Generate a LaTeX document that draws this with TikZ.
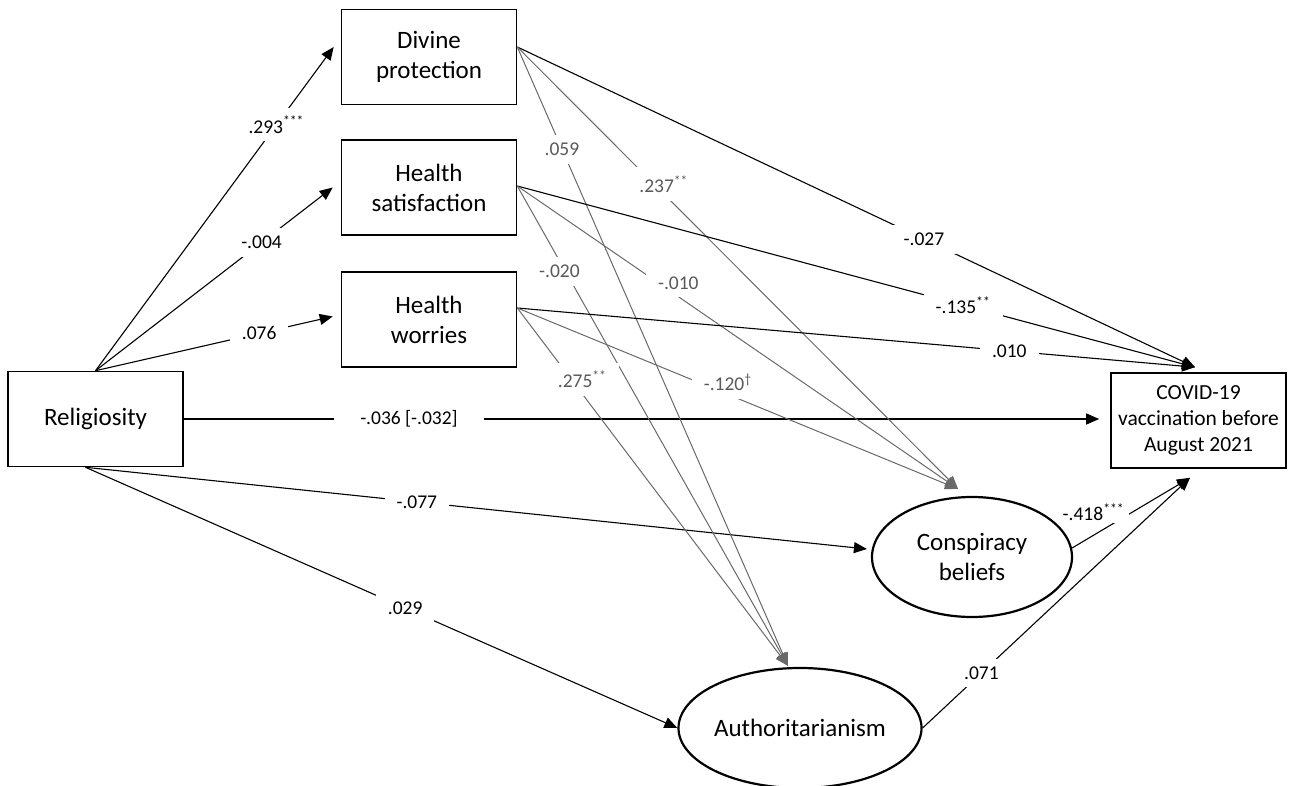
\documentclass[tikz,border=0pt]{standalone}
\usepackage{fontspec}
\setmainfont{Carlito}
\usetikzlibrary{arrows.meta,shapes.geometric,calc}
\definecolor{gline}{RGB}{105,105,105}
\definecolor{gtext}{RGB}{89,89,89}
\begin{document}
\begin{tikzpicture}[x=0.5pt,y=-0.5pt,
  box/.style={draw, line width=0.8pt, minimum width=87.5pt, minimum height=47.5pt, inner sep=0pt, align=center, font=\fontsize{12.5}{15}\selectfont},
  ell/.style={ellipse, draw, line width=1.1pt, minimum width=100pt, minimum height=60pt, inner sep=0pt, align=center, font=\fontsize{12.5}{15}\selectfont},
  arr/.style={line width=0.55pt, -{Triangle[length=6.5pt,width=5.5pt]}},
  garr/.style={arr, draw=gline, line width=0.5pt},
  lbl/.style={fill=white, inner xsep=6pt, inner ysep=4pt, font=\fontsize{9.75}{11}\selectfont},
  glbl/.style={lbl, text=gtext}
]
\useasboundingbox (0,0) rectangle (1294,786);

% nodes
\node[box] (rel) at (95.5,419) {Religiosity};
\node[box] (div) at (429,57) {Divine\\protection};
\node[box] (hs) at (429,187.5) {Health\\satisfaction};
\node[box] (hw) at (429,319.5) {Health\\worries};
\node[box, font=\fontsize{10.75}{13}\selectfont] (cov) at (1198.5,420.5) {COVID-19\\vaccination before\\August 2021};
\node[ell] (con) at (972,557) {Conspiracy\\beliefs};
\node[ell] (aut) at (800,728) {Authoritarianism};

% religiosity paths
\draw[arr] (rel.north) -- ($(div.west)+(-7,-10)$) node[lbl,pos=0.76]{.293\textsuperscript{***}};
\draw[arr] (rel.north) -- ($(hs.west)+(-8,0)$) node[lbl,pos=0.70]{-.004};
\draw[arr] (rel.north) -- ($(hw.west)+(-8,-3)$) node[lbl,pos=0.69]{.076};
\draw[arr] (rel.east) -- ($(rel.east -| cov.west)+(-11,0)$) node[lbl,pos=0.246,inner xsep=13pt]{-.036 [-.032]};
\draw[arr] ($(rel.south)+(-10,0)$) -- ($(con.west)+(-4,-8)$) node[lbl,pos=0.424]{-.077};
\draw[arr] ($(rel.south)+(-10,0)$) -- (aut.west) node[lbl,pos=0.54]{.029};

% divine protection paths
\draw[arr] ($(div.east)+(0,-10)$) -- ($(cov.north)+(-3.5,-5)$) node[lbl,pos=0.6]{-.027};
\draw[garr] ($(div.east)+(0,-10)$) -- ($(con.north)+(-14,-7)$) node[glbl,pos=0.31,xshift=5pt]{.237\textsuperscript{**}};
\draw[garr] ($(div.east)+(0,-10)$) -- ($(aut.north)+(-12,-1)$) node[glbl,pos=0.165]{.059};

% health satisfaction paths
\draw[arr] ($(hs.east)+(0,-1.5)$) -- ($(cov.north)+(-3.5,-5)$) node[lbl,pos=0.658]{-.135\textsuperscript{**}};
\draw[garr] ($(hs.east)+(0,-1.5)$) -- ($(con.north)+(-14,-7)$) node[glbl,pos=0.32,xshift=10pt]{-.010};
\draw[garr] ($(hs.east)+(0,-1.5)$) -- ($(aut.north)+(-12,-1)$) node[glbl,pos=0.178,xshift=-3pt]{-.020};

% health worries paths
\draw[arr] ($(hw.east)+(0,-11.5)$) -- ($(cov.north)+(-3.5,-5)$) node[lbl,pos=0.726]{.010};
\draw[garr] ($(hw.east)+(0,-11.5)$) -- ($(con.north)+(-14,-7)$) node[glbl,pos=0.41,xshift=15pt]{-.120\textsuperscript{\dag}};
\draw[garr] ($(hw.east)+(0,-11.5)$) -- ($(aut.north)+(-12,-1)$) node[glbl,pos=0.2,xshift=5.5pt]{.275\textsuperscript{**}};

% latent to outcome
\draw[arr] ($(con.east)+(-1,-9)$) -- ($(cov.south)+(-8.5,9)$) node[lbl,pos=0.4,inner xsep=2pt,inner ysep=1pt,xshift=-12.8pt,yshift=3.8pt]{-.418\textsuperscript{***}};
\draw[arr] (aut.east) -- ($(cov.south)+(-8.5,9)$) node[lbl,pos=0.22]{.071};
\end{tikzpicture}
\end{document}
